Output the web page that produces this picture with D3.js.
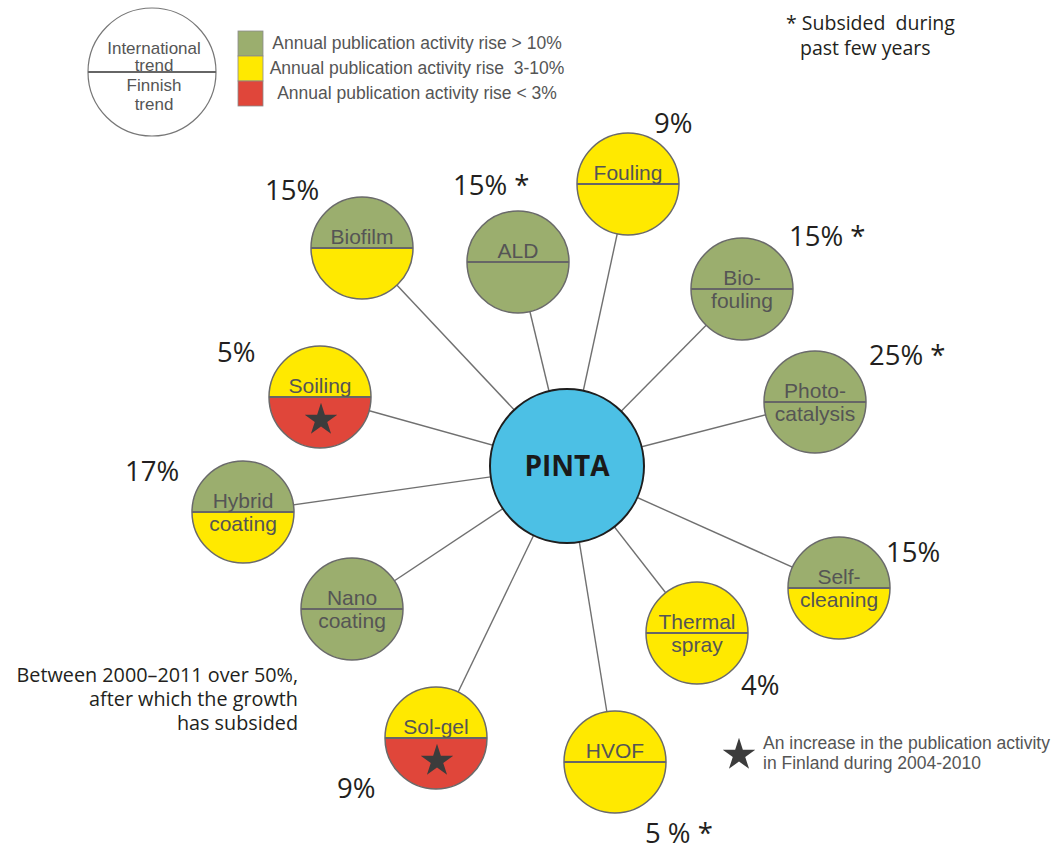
<!DOCTYPE html>
<html>
<head>
<meta charset="utf-8">
<script src="https://cdn.jsdelivr.net/npm/d3@7"></script>
<style>
  html, body { margin: 0; padding: 0; background: #fff; }
  svg { display: block; }
  .nodeLabel { font-family: "Liberation Sans", Arial, sans-serif; font-size: 21px; fill: #555; }
  .legendText { font-family: "Liberation Sans", Arial, sans-serif; fill: #555; }
  .pct { font-family: "Open Sans", "Noto Sans", sans-serif; font-size: 27.5px; fill: #231f20; }
  .note { font-family: "Open Sans", "Noto Sans", sans-serif; font-size: 19.5px; fill: #231f20; }
</style>
</head>
<body>
<div id="chart"></div>
<script>
// ---- data ----
const topics = ["Biofilm", "ALD", "Fouling", "Bio-fouling", "Photo-catalysis", "Self-cleaning",
                "Thermal spray", "HVOF", "Sol-gel", "Nano coating", "Hybrid coating", "Soiling"];
const topicLines = [["Biofilm"], ["ALD"], ["Fouling"], ["Bio-", "fouling"], ["Photo-", "catalysis"],
                    ["Self-", "cleaning"], ["Thermal", "spray"], ["HVOF"], ["Sol-gel"],
                    ["Nano", "coating"], ["Hybrid", "coating"], ["Soiling"]];
// trend classes: high = rise > 10%, mid = 3-10%, low = < 3%
const intlTrend    = ["high", "high", "mid", "high", "high", "high", "mid", "mid", "mid", "high", "high", "mid"];
const finnishTrend = ["mid", "high", "mid", "high", "high", "mid", "mid", "mid", "low", "high", "mid", "low"];
const growthLabels = ["15%", "15% *", "9%", "15% *", "25% *", "15%", "4%", "5 % *", "9%", "", "17%", "5%"];
const finnishIncrease = [false, false, false, false, false, false, false, false, true, false, false, true];

const trendKeys = ["high", "mid", "low"];
const trendNames = ["Annual publication activity rise > 10%",
                    "Annual publication activity rise  3-10%",
                    "Annual publication activity rise < 3%"];
const hubName = "PINTA";
const legendCircleText = ["International", "trend", "Finnish", "trend"];
const subsidedNote = ["* Subsided  during", "past few years"];
const nanoNote = ["Between 2000\u20132011 over 50%,", "after which the growth", "has subsided"];
const starNote = ["An increase in the publication activity", "in Finland during 2004-2010"];

// ---- layout (pixel positions of the drawing) ----
const hub = {x: 567, y: 466, r: 77};
const nodeR = 51;
const nodePos = [[362, 248], [518, 262], [628, 184], [742, 289], [815, 402], [839, 588],
                 [697, 633], [615, 762], [436, 738], [352, 609], [243, 512], [320, 397]];
const pctPos = [[265, 200], [453, 195], [654, 133], [789, 246], [869, 365], [886, 562],
                [741, 695], [645, 843], [337, 798], [0, 0], [125, 481], [217, 362]];

const W = 1061, H = 851;
const color = d3.scaleOrdinal().domain(trendKeys).range(["#9bae6e", "#ffe900", "#e0463a"]);

const svg = d3.select("#chart").append("svg").attr("width", W).attr("height", H);

const nodes = topics.map((t, i) => ({
  name: t, lines: topicLines[i], intl: intlTrend[i], fin: finnishTrend[i],
  pct: growthLabels[i], star: finnishIncrease[i],
  x: nodePos[i][0], y: nodePos[i][1], px: pctPos[i][0], py: pctPos[i][1]
}));

// spokes
svg.append("g").selectAll("line").data(nodes).join("line")
  .attr("x1", hub.x).attr("y1", hub.y)
  .attr("x2", d => d.x).attr("y2", d => d.y)
  .attr("stroke", "#707070").attr("stroke-width", 1.4);

// hub
svg.append("circle").attr("cx", hub.x).attr("cy", hub.y).attr("r", hub.r)
  .attr("fill", "#4cc0e5").attr("stroke", "#1e1e1e").attr("stroke-width", 2);
svg.append("text").attr("x", hub.x).attr("y", hub.y + 10)
  .attr("text-anchor", "middle")
  .style("font-family", "'Open Sans', 'Noto Sans', sans-serif")
  .style("font-weight", "bold").style("font-size", "28px").style("fill", "#1a1a1a")
  .text(hubName);

// topic nodes
const topArc = d3.arc().innerRadius(0).outerRadius(nodeR).startAngle(-Math.PI / 2).endAngle(Math.PI / 2);
const botArc = d3.arc().innerRadius(0).outerRadius(nodeR).startAngle(Math.PI / 2).endAngle(3 * Math.PI / 2);
const star = d3.symbol().type(d3.symbolStar).size(330);

const node = svg.append("g").selectAll("g").data(nodes).join("g")
  .attr("transform", d => `translate(${d.x},${d.y})`);
node.append("path").attr("d", topArc).attr("fill", d => color(d.intl));
node.append("path").attr("d", botArc).attr("fill", d => color(d.fin));
node.append("circle").attr("r", nodeR).attr("fill", "none").attr("stroke", "#6a6a6a").attr("stroke-width", 1.5);
node.append("line").attr("x1", -nodeR).attr("x2", nodeR).attr("stroke", "#666").attr("stroke-width", 2);
node.filter(d => d.star).append("path").attr("d", star).attr("transform", "translate(1,23)").attr("fill", "#3c3c3c");
node.append("text").attr("class", "nodeLabel").attr("text-anchor", "middle")
  .selectAll("tspan").data(d => d.lines.map((l, j) => ({l, j}))).join("tspan")
  .attr("x", 0).attr("y", t => t.j === 0 ? -4 : 19).text(t => t.l);

// growth percentages
svg.append("g").selectAll("text").data(nodes.filter(d => d.pct)).join("text")
  .attr("class", "pct").attr("x", d => d.px).attr("y", d => d.py).text(d => d.pct);

// legend circle
const lg = svg.append("g").attr("transform", "translate(152,72)");
lg.append("circle").attr("r", 64).attr("fill", "#fff").attr("stroke", "#777").attr("stroke-width", 1.2);
lg.append("line").attr("x1", -64).attr("x2", 64).attr("stroke", "#666").attr("stroke-width", 2);
lg.append("text").attr("class", "legendText").attr("text-anchor", "middle").style("font-size", "17px")
  .selectAll("tspan").data(legendCircleText).join("tspan")
  .attr("x", 2).attr("y", (d, i) => [-18, -1, 19, 38][i]).text(d => d);

// legend swatches
const sw = svg.append("g");
sw.selectAll("rect").data(trendKeys).join("rect")
  .attr("x", 238).attr("y", (d, i) => 31 + i * 25).attr("width", 25).attr("height", 25)
  .attr("fill", d => color(d)).attr("stroke", "#8a8a8a").attr("stroke-width", 0.8);
sw.selectAll("text").data(trendNames).join("text")
  .attr("class", "legendText").attr("x", 417).attr("y", (d, i) => 49 + i * 25)
  .attr("text-anchor", "middle").style("font-size", "17.5px").style("white-space", "pre")
  .text(d => d);

// notes
svg.append("text").attr("class", "note").style("white-space", "pre")
  .selectAll("tspan").data(subsidedNote).join("tspan")
  .attr("x", (d, i) => i === 0 ? 786 : 800).attr("y", (d, i) => 30 + i * 25).text(d => d);

svg.append("text").attr("class", "note").attr("text-anchor", "end").style("font-size", "19.8px")
  .selectAll("tspan").data(nanoNote).join("tspan")
  .attr("x", 298).attr("y", (d, i) => 682 + i * 24).text(d => d);

svg.append("path").attr("d", star).attr("transform", "translate(739,755)").attr("fill", "#3c3c3c");
svg.append("text").attr("class", "legendText").style("font-size", "17.5px")
  .selectAll("tspan").data(starNote).join("tspan")
  .attr("x", 763).attr("y", (d, i) => 749 + i * 20).text(d => d);
</script>
</body>
</html>
